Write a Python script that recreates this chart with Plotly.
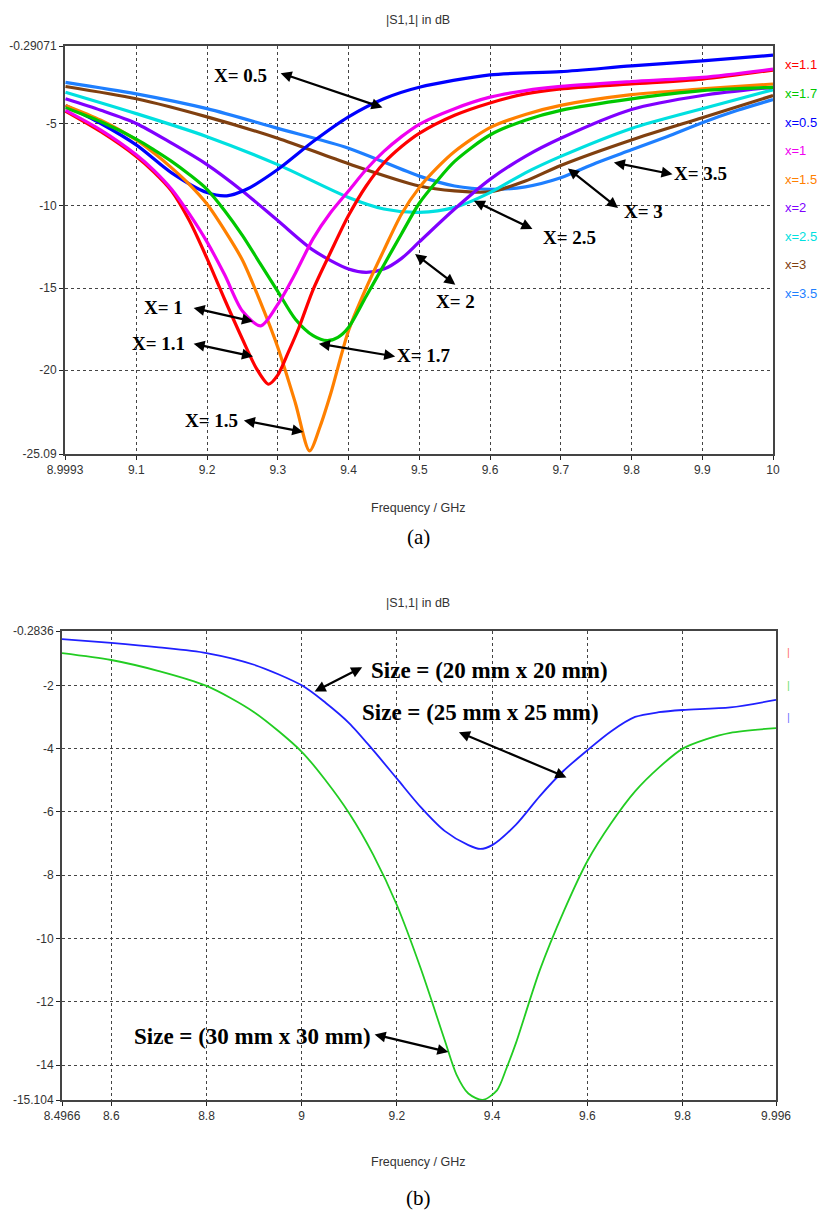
import plotly.graph_objects as go

# ---------------- (a) data ----------------
names_a = ["x=1.1", "x=1.7", "x=0.5", "x=1", "x=1.5", "x=2", "x=2.5", "x=3", "x=3.5"]
colors_a = ["#ff0000", "#00c800", "#0000ff", "#f000f0", "#ff8000", "#8000ff", "#00e0e0", "#804010", "#1e7fff"]

f_x11 = [9.0, 9.05, 9.1, 9.125, 9.15, 9.175, 9.2, 9.225, 9.25, 9.27, 9.287, 9.3, 9.315, 9.33, 9.35, 9.375, 9.4, 9.425, 9.45, 9.475, 9.5, 9.55, 9.6, 9.65, 9.7, 9.8, 9.9, 10.0]
v_x11 = [-4.25, -5.5, -7.0, -7.95, -9.1, -10.9, -13.2, -15.7, -18.1, -19.9, -20.85, -20.3, -18.9, -17.4, -15.1, -12.8, -10.6, -8.8, -7.4, -6.4, -5.6, -4.5, -3.75, -3.2, -2.9, -2.6, -2.3, -1.75]

f_x17 = [9.0, 9.05, 9.1, 9.125, 9.15, 9.175, 9.2, 9.225, 9.25, 9.275, 9.3, 9.325, 9.35, 9.37, 9.385, 9.4, 9.425, 9.45, 9.475, 9.5, 9.525, 9.55, 9.6, 9.65, 9.7, 9.8, 9.9, 10.0]
v_x17 = [-4.05, -4.9, -5.95, -6.6, -7.3, -8.1, -9.0, -10.3, -11.8, -13.5, -15.2, -16.9, -17.9, -18.2, -18.0, -17.4, -15.5, -13.6, -11.7, -9.85, -8.5, -7.3, -5.7, -4.8, -4.2, -3.5, -3.0, -2.8]

f_x05 = [9.0, 9.05, 9.1, 9.15, 9.2, 9.228, 9.256, 9.3, 9.35, 9.4, 9.45, 9.5, 9.6, 9.7, 9.8, 9.9, 10.0]
v_x05 = [-3.9, -5.0, -6.3, -8.0, -9.2, -9.4, -9.0, -7.8, -6.1, -4.6, -3.5, -2.8, -2.05, -1.85, -1.5, -1.2, -0.85]

f_x1 = [9.0, 9.05, 9.1, 9.125, 9.15, 9.175, 9.2, 9.225, 9.25, 9.276, 9.3, 9.325, 9.35, 9.375, 9.4, 9.425, 9.45, 9.475, 9.5, 9.55, 9.6, 9.65, 9.7, 9.8, 9.9, 10.0]
v_x1 = [-4.2, -5.4, -6.9, -7.85, -9.0, -10.5, -12.2, -14.2, -16.4, -17.3, -16.0, -14.1, -12.0, -10.4, -9.1, -7.8, -6.7, -5.8, -5.05, -4.1, -3.4, -3.0, -2.75, -2.45, -2.2, -1.7]

f_x15 = [9.0, 9.05, 9.1, 9.125, 9.15, 9.175, 9.2, 9.225, 9.25, 9.275, 9.3, 9.325, 9.345, 9.36, 9.375, 9.4, 9.425, 9.45, 9.475, 9.5, 9.525, 9.55, 9.6, 9.65, 9.7, 9.8, 9.9, 10.0]
v_x15 = [-3.9, -4.8, -6.0, -6.8, -7.7, -8.7, -9.9, -11.5, -13.3, -15.8, -18.6, -22.0, -24.9, -23.4, -21.4, -17.6, -15.0, -12.7, -10.5, -8.9, -7.7, -6.7, -5.25, -4.45, -3.9, -3.25, -2.9, -2.6]

f_x2 = [9.0, 9.05, 9.1, 9.15, 9.2, 9.25, 9.3, 9.35, 9.4, 9.425, 9.45, 9.475, 9.5, 9.55, 9.6, 9.65, 9.7, 9.8, 9.9, 10.0]
v_x2 = [-3.5, -4.2, -5.0, -6.2, -7.5, -9.1, -10.9, -12.7, -13.85, -14.05, -13.85, -13.2, -12.2, -10.2, -8.4, -7.0, -5.9, -4.15, -3.3, -2.8]

f_x25 = [9.0, 9.1, 9.2, 9.3, 9.4, 9.45, 9.5, 9.55, 9.6, 9.65, 9.7, 9.8, 9.9, 10.0]
v_x25 = [-3.1, -4.4, -5.8, -7.5, -9.5, -10.2, -10.4, -10.1, -9.2, -8.0, -7.0, -5.3, -4.1, -2.95]

f_x3 = [9.0, 9.1, 9.2, 9.3, 9.4, 9.5, 9.55, 9.6, 9.65, 9.7, 9.8, 9.9, 10.0]
v_x3 = [-2.75, -3.5, -4.6, -5.9, -7.45, -8.8, -9.1, -9.15, -8.5, -7.55, -6.0, -4.65, -3.3]

f_x35 = [9.0, 9.1, 9.2, 9.3, 9.4, 9.5, 9.55, 9.6, 9.65, 9.7, 9.75, 9.8, 9.85, 9.9, 9.95, 10.0]
v_x35 = [-2.5, -3.2, -4.1, -5.3, -6.5, -8.2, -8.8, -9.0, -8.85, -8.3, -7.4, -6.6, -5.8, -4.95, -4.2, -3.55]

freqs_a = [f_x11, f_x17, f_x05, f_x1, f_x15, f_x2, f_x25, f_x3, f_x35]
vals_a = [v_x11, v_x17, v_x05, v_x1, v_x15, v_x2, v_x25, v_x3, v_x35]
draw_order_a = [8, 7, 6, 5, 2, 4, 1, 0, 3]

xt_a = [8.9993, 9.1, 9.2, 9.3, 9.4, 9.5, 9.6, 9.7, 9.8, 9.9, 10.0]
xt_a_txt = ["8.9993", "9.1", "9.2", "9.3", "9.4", "9.5", "9.6", "9.7", "9.8", "9.9", "10"]
yt_a = [-0.29071, -5, -10, -15, -20, -25.09]
yt_a_txt = ["-0.29071", "-5", "-10", "-15", "-20", "-25.09"]

lab_a = ["X= 0.5", "X= 3.5", "X= 3", "X= 2.5", "X= 2", "X= 1", "X= 1.1", "X= 1.7", "X= 1.5"]
lab_a_xy = [(9.247, -2.10), (9.897, -8.02), (9.817, -10.38), (9.713, -11.90), (9.551, -15.83),
            (9.138, -16.19), (9.131, -18.37), (9.507, -19.10), (9.207, -23.03)]
arr_a = [((9.302, -1.91), (9.448, -4.03)), ((9.773, -7.36), (9.858, -8.09)),
         ((9.708, -7.66), (9.781, -10.14)), ((9.575, -9.66), (9.660, -11.41)),
         ((9.492, -12.86), (9.551, -14.80)), ((9.179, -16.19), (9.265, -17.04)),
         ((9.179, -18.37), (9.265, -19.16)), ((9.356, -18.37), (9.466, -19.16)),
         ((9.250, -23.03), (9.336, -23.75))]

# ---------------- (b) data ----------------
colors_b_legend = ["#ff7070", "#70e070", "#7070ff"]

f_b_blue = [8.4966, 8.6, 8.7, 8.8, 8.9, 9.0, 9.05, 9.1, 9.15, 9.2, 9.25, 9.3, 9.35, 9.375, 9.4, 9.45, 9.5, 9.55, 9.6, 9.65, 9.7, 9.75, 9.8, 9.9, 9.996]
v_b_blue = [-0.54, -0.66, -0.8, -0.98, -1.35, -2.0, -2.55, -3.2, -4.05, -4.95, -5.85, -6.6, -7.05, -7.17, -7.05, -6.4, -5.5, -4.7, -4.05, -3.45, -3.0, -2.85, -2.78, -2.7, -2.46]

f_b_green = [8.4966, 8.6, 8.7, 8.8, 8.9, 9.0, 9.05, 9.1, 9.15, 9.2, 9.25, 9.3, 9.325, 9.35, 9.38, 9.41, 9.43, 9.45, 9.5, 9.55, 9.6, 9.65, 9.7, 9.75, 9.8, 9.85, 9.9, 9.996]
v_b_green = [-0.98, -1.2, -1.55, -2.02, -2.85, -4.1, -5.0, -6.05, -7.35, -8.95, -10.95, -13.2, -14.3, -14.9, -15.1, -14.8, -14.1, -13.3, -11.0, -9.15, -7.55, -6.35, -5.35, -4.6, -4.0, -3.7, -3.5, -3.35]

xt_b = [8.4966, 8.6, 8.8, 9.0, 9.2, 9.4, 9.6, 9.8, 9.996]
xt_b_txt = ["8.4966", "8.6", "8.8", "9", "9.2", "9.4", "9.6", "9.8", "9.996"]
yt_b = [-0.2836, -2, -4, -6, -8, -10, -12, -14, -15.104]
yt_b_txt = ["-0.2836", "-2", "-4", "-6", "-8", "-10", "-12", "-14", "-15.104"]

lab_b = ["Size = (20 mm x 20 mm)", "Size = (25 mm x 25 mm)", "Size = (30 mm x 30 mm)"]
lab_b_xy = [(9.394, -1.52), (9.375, -2.86), (8.896, -13.11)]
arr_b = [((9.024, -2.22), (9.127, -1.43)), ((9.327, -3.46), (9.556, -4.91)),
         ((9.150, -13.02), (9.308, -13.59))]

# ---------------- figure ----------------
W, H = 821, 1214
fig = go.Figure()

for i in draw_order_a:
    fig.add_trace(go.Scatter(x=freqs_a[i], y=vals_a[i], mode="lines", name=names_a[i],
                             line=dict(color=colors_a[i], width=3.2, shape="spline", smoothing=0.8),
                             xaxis="x", yaxis="y", showlegend=False))

fig.add_trace(go.Scatter(x=f_b_green, y=v_b_green, mode="lines",
                         line=dict(color="#22cc22", width=1.8, shape="spline", smoothing=0.8),
                         xaxis="x2", yaxis="y2", showlegend=False))
fig.add_trace(go.Scatter(x=f_b_blue, y=v_b_blue, mode="lines",
                         line=dict(color="#2020ff", width=1.8, shape="spline", smoothing=0.8),
                         xaxis="x2", yaxis="y2", showlegend=False))

SANS = "Liberation Sans, Arial, sans-serif"
SERIF = "Liberation Serif, Times New Roman, serif"
tickfont = dict(family=SANS, size=12, color="#333")
axcommon = dict(showline=True, linecolor="#444", linewidth=2, mirror=True,
                showgrid=True, gridcolor="#444", griddash="dot", gridwidth=1,
                ticks="outside", ticklen=4, tickcolor="#222", zeroline=False,
                tickfont=tickfont, tickmode="array", automargin=False)

fig.update_layout(
    width=W, height=H, margin=dict(l=0, r=0, t=0, b=0, autoexpand=False),
    paper_bgcolor="white", plot_bgcolor="white",
    xaxis=dict(domain=[65 / W, 773 / W], range=[8.9993, 10.0], tickvals=xt_a, ticktext=xt_a_txt,
               anchor="y", **axcommon),
    yaxis=dict(domain=[1 - 454 / H, 1 - 46 / H], range=[-25.09, -0.29071], tickvals=yt_a, ticktext=yt_a_txt,
               anchor="x", **axcommon),
    xaxis2=dict(domain=[62 / W, 776 / W], range=[8.4966, 9.996], tickvals=xt_b, ticktext=xt_b_txt,
                anchor="y2", **axcommon),
    yaxis2=dict(domain=[1 - 1100 / H, 1 - 631 / H], range=[-15.104, -0.2836], tickvals=yt_b, ticktext=yt_b_txt,
                anchor="x2", **axcommon),
)

ann = []
small = dict(family=SANS, size=12.5, color="#333")
for ytop in [20, 603]:
    ann.append(dict(x=418 / W, y=1 - ytop / H, xref="paper", yref="paper", text="|S1,1| in dB",
                    showarrow=False, font=small, xanchor="center", yanchor="middle"))
for ytop in [508, 1162]:
    ann.append(dict(x=418 / W, y=1 - ytop / H, xref="paper", yref="paper", text="Frequency / GHz",
                    showarrow=False, font=small, xanchor="center", yanchor="middle"))
for ytop, cap in [(537, "(a)"), (1198, "(b)")]:
    ann.append(dict(x=418 / W, y=1 - ytop / H, xref="paper", yref="paper", text=cap, showarrow=False,
                    font=dict(family=SERIF, size=21, color="black"), xanchor="center", yanchor="middle"))

for k, (nm, col) in enumerate(zip(names_a, colors_a)):
    ann.append(dict(x=783 / W, y=1 - (65 + k * 28.5) / H, xref="paper", yref="paper", text=nm,
                    showarrow=False, xanchor="left", yanchor="middle",
                    font=dict(family=SANS, size=13, color=col)))
for k, col in enumerate(colors_b_legend):
    ann.append(dict(x=788 / W, y=1 - (652 + k * 32.5) / H, xref="paper", yref="paper", text="|",
                    showarrow=False, xanchor="center", yanchor="middle",
                    font=dict(family=SANS, size=11, color=col)))

labfont_a = dict(family=SERIF, size=19, color="black")
labfont_b = dict(family=SERIF, size=23, color="black")
for txt, (tx, ty), ((x1, y1), (x2, y2)) in zip(lab_a, lab_a_xy, arr_a):
    ann.append(dict(x=tx, y=ty, xref="x", yref="y", text="<b>" + txt + "</b>", showarrow=False, font=labfont_a))
    ann.append(dict(x=x2, y=y2, ax=x1, ay=y1, xref="x", yref="y", axref="x", ayref="y", text="",
                    showarrow=True, arrowhead=2, startarrowhead=2, arrowside="end+start",
                    arrowwidth=2.2, arrowsize=1, startarrowsize=1, arrowcolor="black"))
for txt, (tx, ty), ((x1, y1), (x2, y2)) in zip(lab_b, lab_b_xy, arr_b):
    ann.append(dict(x=tx, y=ty, xref="x2", yref="y2", text="<b>" + txt + "</b>", showarrow=False, font=labfont_b))
    ann.append(dict(x=x2, y=y2, ax=x1, ay=y1, xref="x2", yref="y2", axref="x2", ayref="y2", text="",
                    showarrow=True, arrowhead=2, startarrowhead=2, arrowside="end+start",
                    arrowwidth=2.2, arrowsize=1, startarrowsize=1, arrowcolor="black"))

fig.update_layout(annotations=ann)
fig.write_html("out.html", config={"displayModeBar": False},
               post_script="document.body.style.margin='0px';document.body.style.padding='0px';document.documentElement.style.margin='0px';")
